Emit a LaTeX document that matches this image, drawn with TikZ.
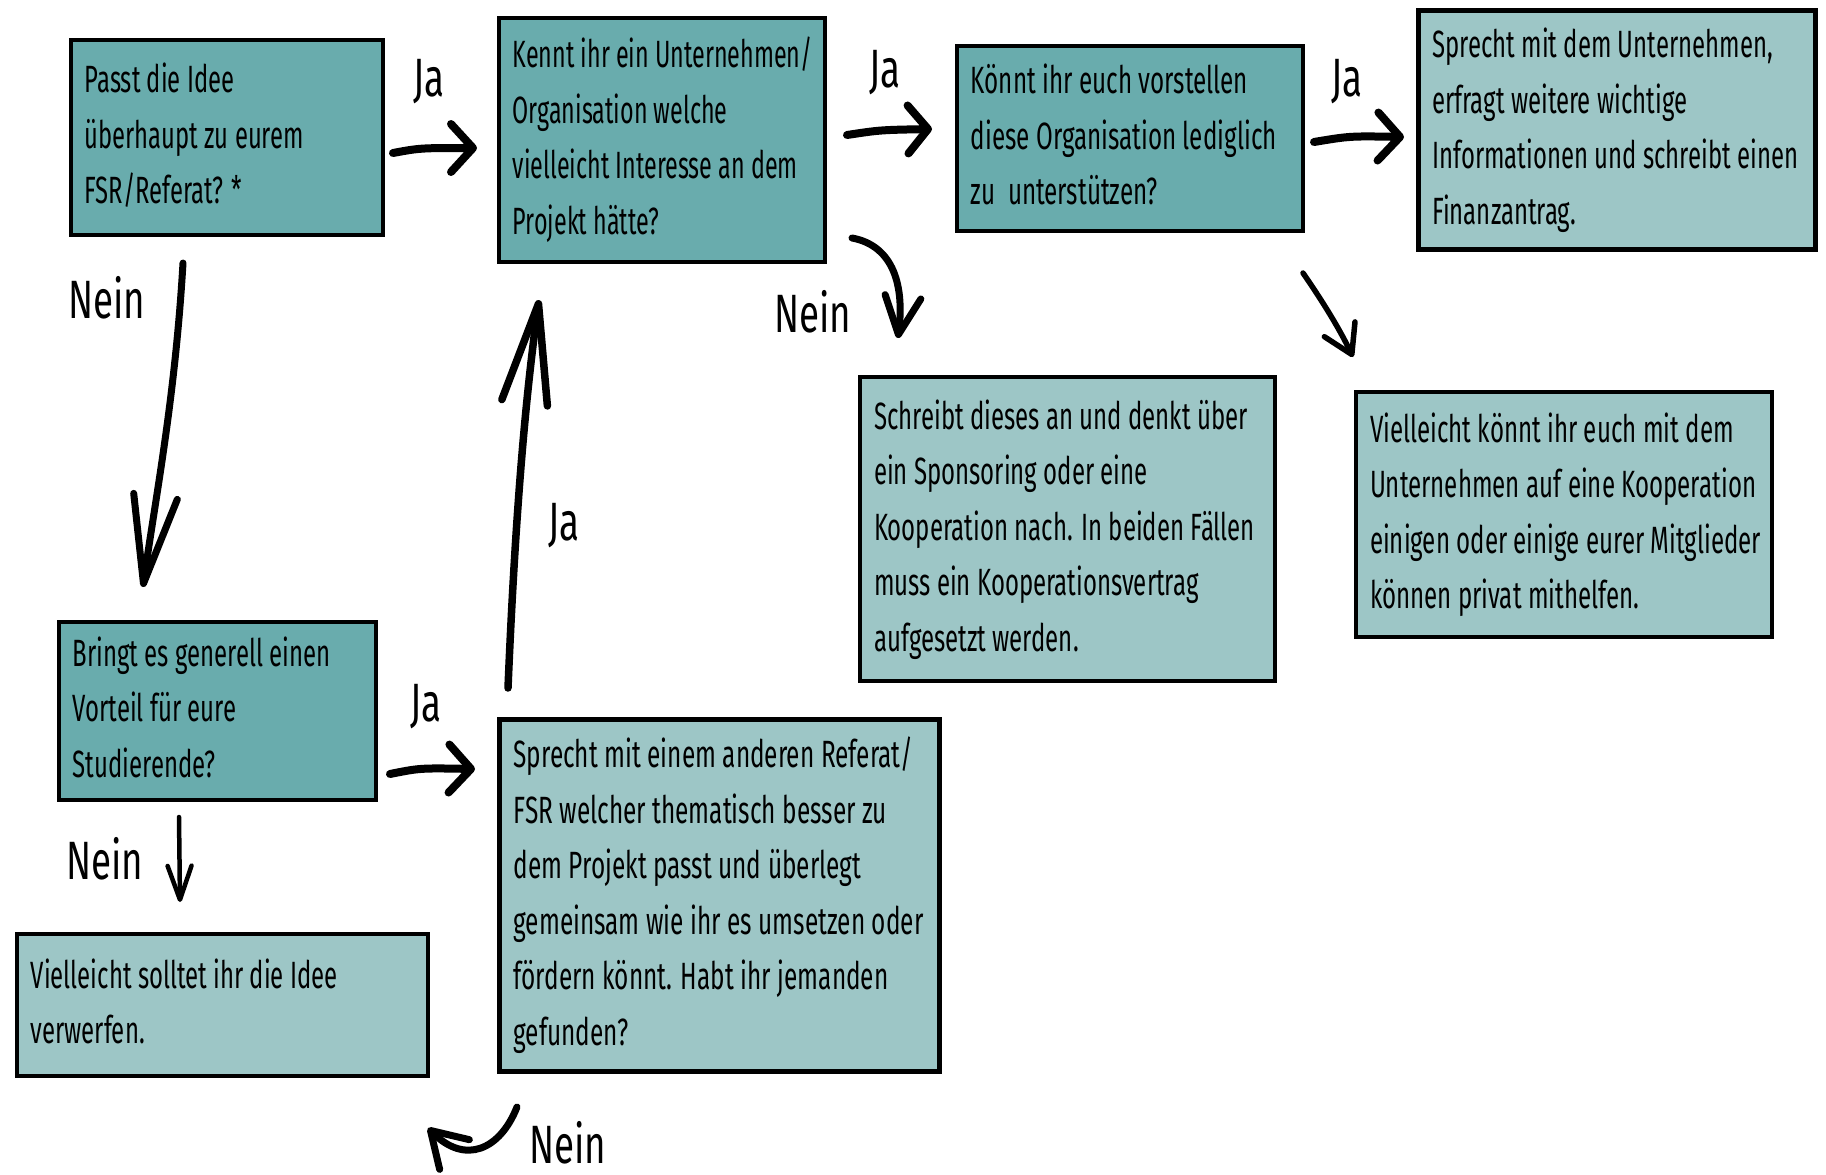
\documentclass[tikz,border=0pt]{standalone}
\usepackage{fontspec}
\usepackage{graphicx}
\usetikzlibrary{arrows.meta}
\newfontfamily\boxfont{Fira Sans}
\newfontfamily\lblfont{Fira Sans}[FakeStretch=0.68]
\definecolor{tealdark}{HTML}{69ACAD}
\definecolor{teallight}{HTML}{9DC6C6}
\newcommand\btext[3]{\makebox[#1][l]{\resizebox{#2}{\height}{\begin{tabular}{@{}l@{}}#3\end{tabular}}}}
\tikzset{
  box/.style={draw=black, line width=3.5pt, rectangle, anchor=north west,
    inner xsep=14pt, inner ysep=0pt,
    font=\boxfont\fontsize{38}{55.5}\selectfont},
  darkbox/.style={box, fill=tealdark},
  lightbox/.style={box, fill=teallight},
  lbl/.style={font=\lblfont\fontsize{54}{60}\selectfont, inner sep=0pt},
  conn/.style={line width=8pt, line cap=round, line join=round},
}
\begin{document}
\begin{tikzpicture}[x=1pt,y=-1pt]
\fill[white] (0,0) rectangle (1826,1175);
\useasboundingbox (0,0) rectangle (1826,1175);

% boxes
\node[darkbox, minimum height=195pt] (passt) at (69,38)
  {\btext{284pt}{219pt}{Passt die Idee\\überhaupt zu eurem\\FSR/Referat? *}};
\node[darkbox, minimum height=244pt] (kennt) at (497,16)
  {\btext{298pt}{300pt}{Kennt ihr ein Unternehmen/\\Organisation welche\\vielleicht Interesse an dem\\Projekt hätte?}};
\node[darkbox, minimum height=185pt] (koennt) at (955,44)
  {\btext{318pt}{306pt}{Könnt ihr euch vorstellen\\diese Organisation lediglich\\zu\ \ unterstützen?}};
\node[lightbox, line width=4.5pt, minimum height=239pt] (unt) at (1416,8)
  {\btext{369pt}{366pt}{Sprecht mit dem Unternehmen,\\erfragt weitere wichtige\\Informationen und schreibt einen\\Finanzantrag.}};
\node[lightbox, line width=4pt, minimum height=304pt] (schreibt) at (858,375)
  {\btext{387pt}{381pt}{Schreibt dieses an und denkt über\\ein Sponsoring oder eine\\Kooperation nach. In beiden Fällen\\muss ein Kooperationsvertrag\\aufgesetzt werden.}};
\node[lightbox, line width=4pt, minimum height=245pt] (koop) at (1354,390)
  {\btext{388pt}{391pt}{Vielleicht könnt ihr euch mit dem\\Unternehmen auf eine Kooperation\\einigen oder einige eurer Mitglieder\\können privat mithelfen.}};
\node[darkbox, minimum height=178pt] (bringt) at (57,620)
  {\btext{289pt}{258pt}{Bringt es generell einen\\Vorteil für eure\\Studierende?}};
\node[lightbox, minimum height=142pt] (verwerfen) at (15,932)
  {\btext{383pt}{307pt}{Vielleicht solltet ihr die Idee\\verwerfen.}};
\node[lightbox, line width=5pt, minimum height=352pt] (anderen) at (497,717)
  {\btext{412pt}{410pt}{Sprecht mit einem anderen Referat/\\FSR welcher thematisch besser zu\\dem Projekt passt und überlegt\\gemeinsam wie ihr es umsetzen oder\\fördern könnt. Habt ihr jemanden\\gefunden?}};

% connector end coordinates
\coordinate (a1) at (393,153); \coordinate (a2) at (477,148);
\coordinate (b1) at (847,135); \coordinate (b2) at (932,129);
\coordinate (c1) at (1314,142); \coordinate (c2) at (1404,137);
\coordinate (d1) at (852,238); \coordinate (d2) at (898,338);
\coordinate (e1) at (1303,273); \coordinate (e2) at (1353,357);
\coordinate (f1) at (183,263); \coordinate (f2) at (143,587);
\coordinate (g1) at (508,688); \coordinate (g2) at (539,300);
\coordinate (h1) at (390,774); \coordinate (h2) at (475,769);
\coordinate (i1) at (179,817); \coordinate (i2) at (180,902);
\coordinate (j1) at (517,1107); \coordinate (j2) at (428,1128);

% connectors
\draw[conn, -{Straight Barb[round,length=22pt,width=48pt]}] (a1) .. controls (420,148) .. (a2);
\draw[conn, -{Straight Barb[round,length=20pt,width=48pt]}] (b1) .. controls (880,130) .. (b2);
\draw[conn, -{Straight Barb[round,length=22pt,width=48pt]}] (c1) .. controls (1350,136) .. (c2);
\draw[conn, line width=7pt, -{Straight Barb[round,length=38pt,width=36pt]}] (d1) .. controls (890,245) and (905,280) .. (d2);
\draw[conn, line width=5.5pt, -{Straight Barb[round,length=28pt,width=34pt]}] (e1) .. controls (1325,305) and (1340,330) .. (e2);
\draw[conn, line width=7pt, -{Straight Barb[round,length=88pt,width=44pt]}] (f1) .. controls (175,400) and (155,500) .. (f2);
\draw[conn, line width=7.5pt, -{Straight Barb[round,length=100pt,width=46pt]}] (g1) .. controls (515,520) and (525,400) .. (g2);
\draw[conn, -{Straight Barb[round,length=22pt,width=48pt]}] (h1) .. controls (420,768) .. (h2);
\draw[conn, line width=4.5pt, -{Straight Barb[round,length=34pt,width=24pt]}] (i1) -- (i2);
\draw[conn, line width=7pt, -{Straight Barb[round,length=34pt,width=42pt]}] (j1) .. controls (500,1150) and (465,1165) .. (j2);

% labels
\node[lbl] (la) at (429,82) {Ja};
\node[lbl] (lb) at (885,73) {Ja};
\node[lbl] (lc) at (1347,82) {Ja};
\node[lbl] (ld) at (813,312) {Nein};
\node[lbl] (lf) at (107,298) {Nein};
\node[lbl] (lg) at (564,526) {Ja};
\node[lbl] (lh) at (426,707) {Ja};
\node[lbl] (li) at (105,859) {Nein};
\node[lbl] (lj) at (568,1143) {Nein};
\end{tikzpicture}
\end{document}
